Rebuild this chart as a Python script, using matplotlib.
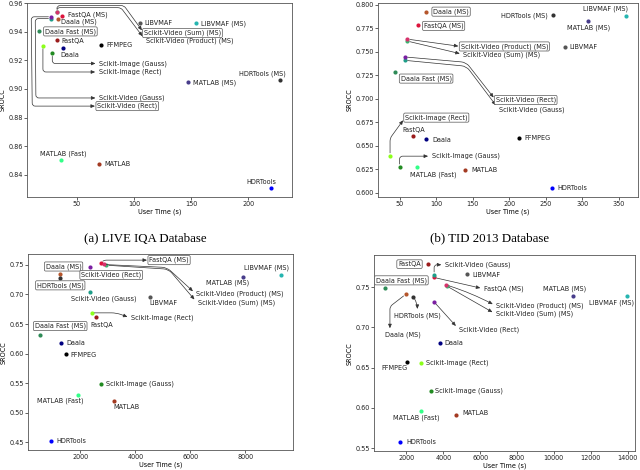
import matplotlib
matplotlib.use("Agg")
import matplotlib.pyplot as plt
from matplotlib.ticker import MultipleLocator, FormatStrFormatter

methods = ["FastQA", "FastQA (MS)", "Daala", "Daala (MS)", "Daala Fast (MS)", "FFMPEG",
           "LIBVMAF", "LIBVMAF (MS)", "MATLAB", "MATLAB (MS)", "MATLAB (Fast)",
           "HDRTools", "HDRTools (MS)", "Scikit-Image (Gauss)", "Scikit-Image (Rect)",
           "Scikit-Video (Gauss)", "Scikit-Video (Rect)", "Scikit-Video (Sum) (MS)",
           "Scikit-Video (Product) (MS)"]

# (a) LIVE IQA
live_time = [32.5, 36.8, 37.7, 33.1, 16.7, 71.4, 105.0, 154.7, 69.3, 147.4, 36.3,
             220.5, 227.8, 28.4, 20.2, 27.5, 27.5, 32.5, 32.5]
live_srocc = [0.934, 0.951, 0.9287, 0.9486, 0.9402, 0.9306, 0.9462, 0.9462, 0.8476, 0.9048,
              0.8507, 0.8308, 0.906, 0.9248, 0.930, 0.9491, 0.9504, 0.954, 0.9535]
# (b) TID 2013
tid_time = [67.3, 74.5, 86.4, 85.5, 42.7, 213.6, 275.9, 360.5, 138.6, 308.2, 72.7,
            258.6, 259.5, 49.5, 36.4, 56.8, 56.8, 60.0, 60.0]
tid_srocc = [0.6602, 0.7782, 0.657, 0.7926, 0.7282, 0.6577, 0.755, 0.7884, 0.6239, 0.7827,
             0.6271, 0.6049, 0.7887, 0.6275, 0.6394, 0.7408, 0.7444, 0.7613, 0.7634]
# (c)
c_time = [2570, 2751, 1297, 1273, 545, 1467, 4521, 9297, 3236, 7915, 1915,
          933, 1248, 2764, 2412, 2364, 2364, 2945, 2848]
c_srocc = [0.6611, 0.7528, 0.6186, 0.7343, 0.632, 0.5996, 0.6963, 0.7332, 0.5207, 0.7299,
           0.5302, 0.4519, 0.7271, 0.5492, 0.6689, 0.7036, 0.7466, 0.7494, 0.7506]
# (d)
d_time = [3176, 3484, 3810, 1964, 860, 2036, 5312, 13946, 4679, 11032, 2796,
          1674, 2362, 3339, 2796, 3502, 3502, 4190, 4170]
d_srocc = [0.7784, 0.7619, 0.68, 0.741, 0.7488, 0.657, 0.7656, 0.7389, 0.5916, 0.7389,
           0.5965, 0.5574, 0.7381, 0.6208, 0.6562, 0.7652, 0.7315, 0.7512, 0.7525]

captions = ["(a) LIVE IQA Database", "(b) TID 2013 Database"]

colors = {
    "FastQA": "#9b1c1c", "FastQA (MS)": "#dc143c", "Daala": "#000080",
    "Daala (MS)": "#b5562c", "Daala Fast (MS)": "#2e8b57", "FFMPEG": "#000000",
    "LIBVMAF": "#555555", "LIBVMAF (MS)": "#26b5b0", "MATLAB": "#a33a22",
    "MATLAB (MS)": "#483d8b", "MATLAB (Fast)": "#33ff88", "HDRTools": "#0000ff",
    "HDRTools (MS)": "#333333", "Scikit-Image (Gauss)": "#228b22",
    "Scikit-Image (Rect)": "#8cff1a", "Scikit-Video (Gauss)": "#1f9e89",
    "Scikit-Video (Rect)": "#7b1fa2", "Scikit-Video (Sum) (MS)": "#3cb371",
    "Scikit-Video (Product) (MS)": "#d6336c",
}

FS = 4.7

def L(dx, dy, ha="left", box=False, cs=None, rp=(0, 0.5)):
    return dict(o=(dx, dy), ha=ha, box=box, cs=cs, rp=rp)

lay_a = {
    "FastQA": L(3.4, -0.7), "FastQA (MS)": L(4.3, 0.7), "Daala": L(-1.9, -4.8),
    "Daala (MS)": L(2.6, -1.9), "Daala Fast (MS)": L(4.3, 0, box=True),
    "FFMPEG": L(3.6, 0), "LIBVMAF": L(3.6, 0), "LIBVMAF (MS)": L(3.6, -1.0),
    "MATLAB": L(4.1, 0), "MATLAB (MS)": L(3.6, -0.3), "MATLAB (Fast)": L(1.4, 4.3, ha="center"),
    "HDRTools": L(-7.2, 4.3, ha="center"), "HDRTools (MS)": L(4.3, 4.6, ha="right"),
    "Scikit-Image (Gauss)": L(33.6, -7.2, cs="angle,angleA=0,angleB=90,rad=3"),
    "Scikit-Image (Rect)": L(40.1, -18.7, cs="angle,angleA=0,angleB=90,rad=3"),
    "Scikit-Video (Gauss)": L(34.3, -57.1, cs="arc,angleA=180,armA=63,angleB=180,armB=16,rad=3"),
    "Scikit-Video (Rect)": L(33.1, -64.3, box=True, cs="arc,angleA=180,armA=65,angleB=180,armB=20,rad=3"),
    "Scikit-Video (Sum) (MS)": L(62.6, -15.4, box=True, cs="arc,angleA=126,armA=34,angleB=90,armB=6,rad=3"),
    "Scikit-Video (Product) (MS)": L(63.8, -20.2, cs="arc,angleA=127,armA=41,angleB=90,armB=4.7,rad=3"),
}
lay_b = {
    "FastQA": L(1.2, 4.1, ha="center"), "FastQA (MS)": L(4.3, -0.5, box=True),
    "Daala": L(4.1, -0.5), "Daala (MS)": L(5.3, 0, box=True),
    "Daala Fast (MS)": L(4.3, -4.6, box=True), "FFMPEG": L(3.4, 0),
    "LIBVMAF": L(3.1, 0), "LIBVMAF (MS)": L(-14.6, 5, ha="center"),
    "MATLAB": L(4.6, 0), "MATLAB (MS)": L(0, -5, ha="center"),
    "MATLAB (Fast)": L(12, -5.3, ha="center"), "HDRTools": L(3.8, 0),
    "HDRTools (MS)": L(-3.8, -0.5, ha="right"),
    "Scikit-Image (Gauss)": L(23, 7.7, cs="angle,angleA=0,angleB=90,rad=3"),
    "Scikit-Image (Rect)": L(10.8, 27.4, box=True, cs="angle,angleA=54,angleB=90,rad=3"),
    "Scikit-Video (Gauss)": L(67.7, -35.3, cs="angle,angleA=127,angleB=-5.5,rad=5"),
    "Scikit-Video (Rect)": L(65.3, -31, box=True, cs="angle,angleA=128,angleB=-5,rad=5"),
    "Scikit-Video (Sum) (MS)": L(40.3, -9.6, cs="arc3,rad=0"),
    "Scikit-Video (Product) (MS)": L(38.4, -5.3, box=True, cs="arc3,rad=0"),
}
lay_c = {
    "FastQA": L(4.3, -5.3, ha="center"), "FastQA (MS)": L(34.8, 2.2, box=True, cs="angle,angleA=0,angleB=60,rad=4"),
    "Daala": L(3.8, 0), "Daala (MS)": L(2.4, 5.5, ha="center", box=True),
    "Daala Fast (MS)": L(14.4, 6.2, ha="center", box=True), "FFMPEG": L(3.8, -0.5),
    "LIBVMAF": L(10, -4.8, ha="center"), "LIBVMAF (MS)": L(-10.8, 5.3, ha="center"),
    "MATLAB": L(9.1, -4.3, ha="center"), "MATLAB (MS)": L(-11, -4.6, ha="center"),
    "MATLAB (Fast)": L(-12.7, -4.1, ha="center"), "HDRTools": L(4.3, 0),
    "HDRTools (MS)": L(0.5, -5, ha="center", box=True),
    "Scikit-Image (Gauss)": L(3.6, 0),
    "Scikit-Image (Rect)": L(28.3, -3.8, cs="angle,angleA=160,angleB=0,rad=5"),
    "Scikit-Video (Gauss)": L(9.6, -4.8, ha="center"),
    "Scikit-Video (Rect)": L(15.1, -5.8, ha="center", box=True),
    "Scikit-Video (Sum) (MS)": L(65.8, -27.4, cs="angle,angleA=130.5,angleB=-3.7,rad=5"),
    "Scikit-Video (Product) (MS)": L(66.7, -21.4, cs="angle,angleA=137.7,angleB=-2.7,rad=5"),
}
lay_d = {
    "FastQA": L(-5.2, 0, ha="right", box=True),
    "FastQA (MS)": L(36, -8.2, cs="arc3,rad=0"),
    "Daala": L(3.6, 0), "Daala (MS)": L(-2.4, -29.3, ha="center", cs="angle,angleA=90,angleB=37.7,rad=3", rp=(0.15, 1)),
    "Daala Fast (MS)": L(11.5, 5.5, ha="center", box=True), "FFMPEG": L(-8.9, -4.1, ha="center"),
    "LIBVMAF": L(3.4, -0.2), "LIBVMAF (MS)": L(-10.8, -5, ha="center"),
    "MATLAB": L(14.2, 1, ha="center"), "MATLAB (MS)": L(-5.8, 5.3, ha="center"),
    "MATLAB (Fast)": L(-3.8, -4.8, ha="center"), "HDRTools": L(4.3, 0),
    "HDRTools (MS)": L(2.9, -13.7, ha="center", cs="arc3,rad=0.2", rp=(0.5, 1)),
    "Scikit-Image (Gauss)": L(3.1, 0), "Scikit-Image (Rect)": L(3.4, 0),
    "Scikit-Video (Gauss)": L(7.7, 7.2, cs="angle,angleA=0,angleB=90,rad=3"),
    "Scikit-Video (Rect)": L(18, -19.9, cs="arc3,rad=0"),
    "Scikit-Video (Sum) (MS)": L(35.3, -20.2, cs="arc3,rad=0"),
    "Scikit-Video (Product) (MS)": L(35.8, -15.1, cs="arc3,rad=0.05"),
}


def panel(ax, xs, ys, lay, xstep, ystep, xlim=None):
    for i, name in enumerate(methods):
        ax.scatter(xs[i], ys[i], s=9, color=colors[name], zorder=3, linewidths=0)
    for i, name in enumerate(methods):
        sp = lay[name]
        kw = dict(xy=(xs[i], ys[i]), xytext=sp["o"], textcoords="offset points",
                  ha=sp["ha"], va="center", fontsize=FS, color="#222222", zorder=4)
        if sp["box"]:
            kw["bbox"] = dict(boxstyle="round,pad=0.2", fc="white", ec="#555555", lw=0.5)
        if sp["cs"]:
            kw["arrowprops"] = dict(arrowstyle="<|-,head_length=0.5,head_width=0.22",
                                    connectionstyle=sp["cs"], relpos=sp["rp"],
                                    shrinkA=0.5, shrinkB=2, lw=0.5, color="#333333")
        ax.annotate(name, **kw)
    ax.xaxis.set_major_locator(MultipleLocator(xstep))
    ax.yaxis.set_major_locator(MultipleLocator(ystep))
    if xlim:
        ax.set_xlim(*xlim)
    ax.tick_params(labelsize=FS, length=2, width=0.5, pad=1, colors="#222222")
    for s in ax.spines.values():
        s.set_color("#555555")
        s.set_linewidth(0.6)
    ax.set_xlabel("User Time (s)", fontsize=FS, labelpad=1)
    ax.set_ylabel("SROCC", fontsize=FS, labelpad=2)


fig = plt.figure(figsize=(6.4, 4.7), dpi=100)
ax_a = fig.add_axes([0.042, 0.581, 0.414, 0.413])
ax_b = fig.add_axes([0.591, 0.581, 0.406, 0.413])
ax_c = fig.add_axes([0.044, 0.042, 0.414, 0.417])
ax_d = fig.add_axes([0.584, 0.040, 0.408, 0.417])

panel(ax_a, live_time, live_srocc, lay_a, 50, 0.02)
panel(ax_b, tid_time, tid_srocc, lay_b, 50, 0.025)
panel(ax_c, c_time, c_srocc, lay_c, 2000, 0.05)
panel(ax_d, d_time, d_srocc, lay_d, 2000, 0.05, xlim=(226, 14400))
ax_b.yaxis.set_major_formatter(FormatStrFormatter("%.3f"))
ax_c.yaxis.set_major_formatter(FormatStrFormatter("%.2f"))
ax_d.yaxis.set_major_formatter(FormatStrFormatter("%.2f"))

fig.text(145 / 640, 1 - 238 / 470, captions[0], ha="center", va="center",
         fontsize=9.3, family="Liberation Serif")
fig.text(490 / 640, 1 - 238 / 470, captions[1], ha="center", va="center",
         fontsize=9.3, family="Liberation Serif")

fig.savefig("out.png", dpi=100)
